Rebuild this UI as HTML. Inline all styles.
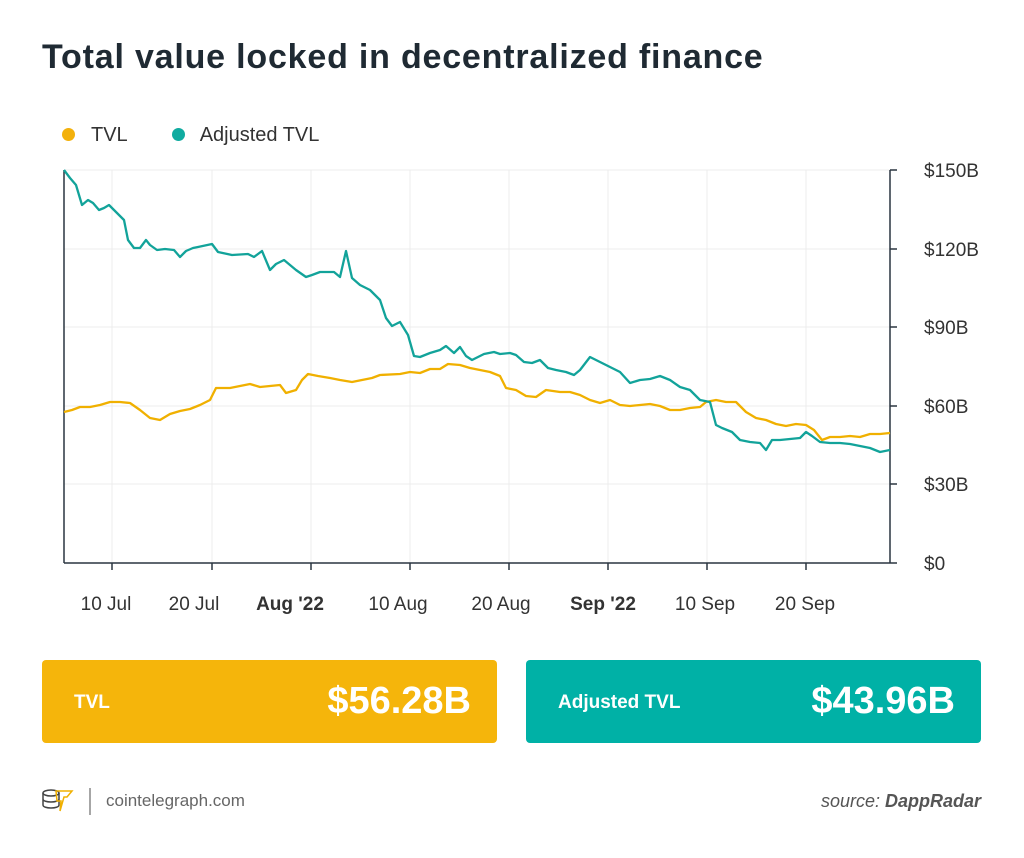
<!DOCTYPE html><html><head><style>
body{margin:0;width:1024px;height:858px;background:#fff;font-family:"Liberation Sans",sans-serif;position:relative;overflow:hidden}
.t{position:absolute;white-space:nowrap}
</style></head><body>
<div class="t" style="left:42px;top:38px;font-size:34px;font-weight:bold;color:#1f2a33;letter-spacing:0.8px">Total value locked in decentralized finance</div>
<div class="t" style="left:62px;top:124px;font-size:20px;color:#333"><span style="display:inline-block;width:13px;height:13px;border-radius:50%;background:#f3b10c;margin-right:16px"></span>TVL<span style="display:inline-block;width:13px;height:13px;border-radius:50%;background:#10aba0;margin:0 15px 0 44px"></span>Adjusted TVL</div>
<svg style="position:absolute;left:0;top:0" width="1024" height="858">
<g stroke="#ececec" stroke-width="1">
<line x1="64" x2="890" y1="170" y2="170"/><line x1="64" x2="890" y1="249" y2="249"/><line x1="64" x2="890" y1="327" y2="327"/><line x1="64" x2="890" y1="406" y2="406"/><line x1="64" x2="890" y1="484" y2="484"/>
<line x1="112" x2="112" y1="170" y2="563"/><line x1="212" x2="212" y1="170" y2="563"/><line x1="311" x2="311" y1="170" y2="563"/><line x1="410" x2="410" y1="170" y2="563"/><line x1="509" x2="509" y1="170" y2="563"/><line x1="608" x2="608" y1="170" y2="563"/><line x1="707" x2="707" y1="170" y2="563"/><line x1="806" x2="806" y1="170" y2="563"/>
</g>
<g stroke="#2a3540" stroke-width="1.5">
<line x1="64" x2="64" y1="170" y2="563"/><line x1="64" x2="890" y1="563" y2="563"/><line x1="890" x2="890" y1="170" y2="563"/>
<line x1="890" x2="897" y1="170" y2="170"/><line x1="890" x2="897" y1="249" y2="249"/><line x1="890" x2="897" y1="327" y2="327"/><line x1="890" x2="897" y1="406" y2="406"/><line x1="890" x2="897" y1="484" y2="484"/><line x1="890" x2="897" y1="563" y2="563"/>
<line x1="112" x2="112" y1="563" y2="570"/><line x1="212" x2="212" y1="563" y2="570"/><line x1="311" x2="311" y1="563" y2="570"/><line x1="410" x2="410" y1="563" y2="570"/><line x1="509" x2="509" y1="563" y2="570"/><line x1="608" x2="608" y1="563" y2="570"/><line x1="707" x2="707" y1="563" y2="570"/><line x1="806" x2="806" y1="563" y2="570"/>
</g>
<polyline fill="none" stroke="#f0b000" stroke-width="2.3" stroke-linejoin="round" points="64,412 72,410 80,407 90,407 100,405 110,402 120,402 130,403 140,410 150,418 160,420 170,414 180,411 190,409 200,405 210,400 216,388 230,388 240,386 250,384 260,387 270,386 280,385 286,393 296,390 302,380 308,374 318,376 330,378 340,380 352,382 362,380 372,378 380,375 400,374 410,372 420,373 430,369 440,369 448,364 460,365 470,368 480,370 490,372 500,376 506,388 516,390 526,396 536,397 546,390 560,392 570,392 580,395 590,400 600,403 610,400 620,405 630,406 640,405 650,404 660,406 670,410 680,410 690,408 700,407 706,402 716,400 726,402 736,402 746,412 756,418 766,420 776,424 786,426 796,424 806,425 814,430 822,440 830,437 840,437 850,436 860,437 870,434 880,434 890,433"/>
<polyline fill="none" stroke="#12a39a" stroke-width="2.3" stroke-linejoin="round" points="64,170 70,178 76,185 82,205 88,200 93,203 99,210 104,208 109,205 114,210 119,215 124,220 128,240 134,248 140,248 146,240 150,245 157,250 165,249 174,250 180,257 186,251 193,248 198,247 212,244 218,252 232,255 248,254 254,257 262,251 270,270 276,264 284,260 290,265 296,270 306,277 312,275 320,272 334,272 340,277 346,251 352,278 360,285 370,290 380,300 386,318 392,326 400,322 408,335 414,356 420,357 430,353 440,350 446,346 454,353 460,347 466,356 472,360 478,357 484,354 494,352 500,354 510,353 516,355 524,362 532,363 540,360 548,368 556,370 566,372 574,375 580,370 590,357 600,362 610,367 620,372 630,383 640,380 650,379 660,376 670,380 680,387 690,390 700,400 710,402 716,425 722,428 732,432 740,440 750,442 760,443 766,450 772,440 780,440 790,439 800,438 806,432 812,436 820,442 830,443 840,443 850,444 860,446 870,448 880,452 890,450"/>
<g font-family="Liberation Sans" font-size="19" fill="#333">
<text x="924" y="177">$150B</text><text x="924" y="256">$120B</text><text x="924" y="334">$90B</text><text x="924" y="413">$60B</text><text x="924" y="491">$30B</text><text x="924" y="570">$0</text>
<g text-anchor="middle"><text x="106" y="610">10 Jul</text><text x="194" y="610">20 Jul</text><text x="290" y="610" font-weight="bold">Aug '22</text><text x="398" y="610">10 Aug</text><text x="501" y="610">20 Aug</text><text x="603" y="610" font-weight="bold">Sep '22</text><text x="705" y="610">10 Sep</text><text x="805" y="610">20 Sep</text></g>
</g>
<line x1="90" x2="90" y1="788" y2="815" stroke="#888" stroke-width="1.5"/>
<g fill="none" stroke="#444" stroke-width="1.5"><ellipse cx="51" cy="793" rx="8" ry="3"/><path d="M43 793v12c0 2 4 3 8 3s8-1 8-3V793M43 799c0 2 4 3 8 3s8-1 8-3"/></g>
<path d="M56 791h16l-5 6h-3l-4 14 1-10h-4z" fill="none" stroke="#f0b000" stroke-width="1.5"/>
</svg>
<div style="position:absolute;left:42px;top:660px;width:455px;height:83px;background:#f5b50b;border-radius:4px"></div>
<div style="position:absolute;left:526px;top:660px;width:455px;height:83px;background:#00b1a6;border-radius:4px"></div>
<div class="t" style="left:74px;top:692px;font-size:19px;font-weight:bold;color:#fff">TVL</div>
<div class="t" style="right:553px;top:680px;font-size:38px;font-weight:bold;color:#fff">$56.28B</div>
<div class="t" style="left:558px;top:692px;font-size:19px;font-weight:bold;color:#fff">Adjusted TVL</div>
<div class="t" style="right:69px;top:680px;font-size:38px;font-weight:bold;color:#fff">$43.96B</div>
<div class="t" style="left:106px;top:791px;font-size:17px;color:#666">cointelegraph.com</div>
<div class="t" style="right:43px;top:791px;font-size:18px;color:#555;font-style:italic">source: <b>DappRadar</b></div>
</body></html>
